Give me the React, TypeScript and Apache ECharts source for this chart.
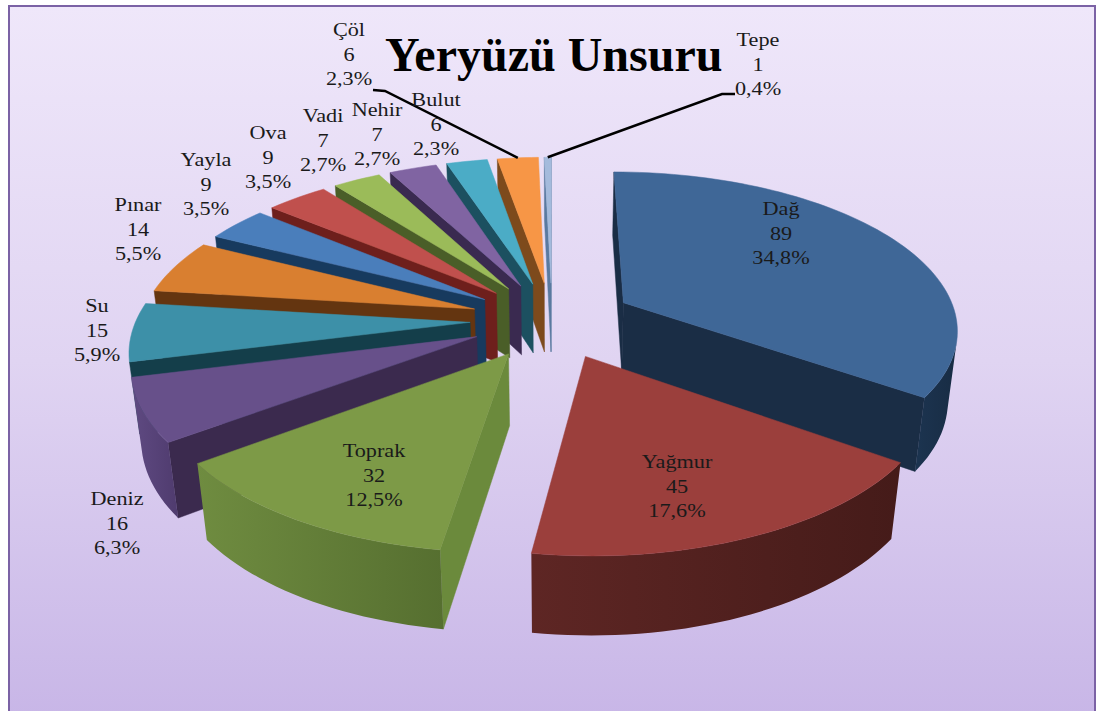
import React, { useEffect, useRef } from "react";
import * as echarts from "echarts";

const CATEGORIES = ["Dağ", "Yağmur", "Toprak", "Deniz", "Su", "Pınar", "Yayla", "Ova", "Vadi", "Nehir", "Bulut", "Çöl", "Tepe"];
const VALUES = [89, 45, 32, 16, 15, 14, 9, 9, 7, 7, 6, 6, 1];
const PERCENT_LABELS = ["34,8%", "17,6%", "12,5%", "6,3%", "5,9%", "5,5%", "3,5%", "3,5%", "2,7%", "2,7%", "2,3%", "2,3%", "0,4%"];
const TITLE = "Yeryüzü Unsuru";

const TOP_COLORS = ["#3f6797", "#9b3f3c", "#7d9a47", "#67508a", "#3d90a8", "#d97f30", "#4a7ebb", "#c0504d", "#9bbb59", "#8064a2", "#4bacc6", "#f79646", "#a4bbdc"];
const CUT_COLORS = ["#1a2d45", "#5a2321", "#6b8a3c", "#3b2a4e", "#143e4a", "#643510", "#173a5e", "#6e1f1c", "#4a5e28", "#3a2a50", "#1c5060", "#7d4a1c", "#5a7aa0"];
const WALL_LIGHT = ["#1c3450", "#5e2624", "#6f8c40", "#5f4a82", "#2f7488", "#a8621f", "#2f5e92", "#8f3a38", "#76913f", "#5e4a80", "#2f7e94", "#b8702f", "#7a90b0"];
const WALL_DARK = ["#182c44", "#451b19", "#566f30", "#4f3b6e", "#22586a", "#824a16", "#234872", "#6e2a28", "#5c7230", "#4a3866", "#236274", "#8e5522", "#5f7490"];

const LABEL_X = [781, 677, 374, 117, 97, 138, 206, 268, 323, 377, 436, 349, 758];
const LABEL_Y = [233, 486, 475, 523, 330, 229, 184, 157, 140, 134, 124, 54, 64];

// Projection of the tilted pie
const CX = 552;
const CY = 320;
const SCALE_X = 334;
const SCALE_Y = 156;
const PERSPECTIVE = 0.155;
const DEPTH_SHIFT = 0.024;
const WALL = 72;
const EXPLODE = 0.245;

const TOTAL = VALUES.reduce((a, b) => a + b, 0);
const spans = (() => {
  let acc = 0;
  return VALUES.map((v) => {
    const s = (acc / TOTAL) * Math.PI * 2;
    acc += v;
    return [s, (acc / TOTAL) * Math.PI * 2];
  });
})();
const midOf = (i: number) => (spans[i][0] + spans[i][1]) / 2;
const drawOrder = VALUES.map((_, i) => i).sort((a, b) => Math.cos(midOf(b)) - Math.cos(midOf(a)));

type P = [number, number];
const project = (X: number, Y: number, bottom: boolean): P => {
  const w = 1 + PERSPECTIVE * Y + (bottom ? DEPTH_SHIFT : 0);
  return [CX + (SCALE_X * X) / w, CY + (-SCALE_Y * Y + (bottom ? WALL : 0)) / w];
};
const area = (pts: P[]) => {
  let s = 0;
  pts.forEach((p, i) => {
    const q = pts[(i + 1) % pts.length];
    s += p[0] * q[1] - q[0] * p[1];
  });
  return s;
};

function renderSlice(_params: any, api: any) {
  const i = api.value(0);
  const [a0, a1] = spans[i];
  const mid = midOf(i);
  const ox = Math.sin(mid) * EXPLODE;
  const oy = Math.cos(mid) * EXPLODE;
  const rim = (t: number, bottom: boolean) => project(ox + Math.sin(t), oy + Math.cos(t), bottom);
  const apexTop = project(ox, oy, false);
  const apexBot = project(ox, oy, true);
  const steps = Math.max(6, Math.round((a1 - a0) / 0.03));
  const angles: number[] = [];
  for (let k = 0; k <= steps; k++) angles.push(a0 + ((a1 - a0) * k) / steps);

  const children: any[] = [];
  const poly = (points: P[], fill: any) => ({
    type: "polygon",
    shape: { points },
    style: { fill, stroke: typeof fill === "string" ? fill : "none", lineWidth: 0.5 },
  });

  const startCut: P[] = [apexTop, rim(a0, false), rim(a0, true), apexBot];
  if (area(startCut) < 0) children.push(poly(startCut, CUT_COLORS[i]));
  const endCut: P[] = [apexTop, rim(a1, false), rim(a1, true), apexBot];
  if (area(endCut) > 0) children.push(poly(endCut, CUT_COLORS[i]));

  const visible: number[] = [];
  for (let k = 0; k < steps; k++) {
    const q: P[] = [rim(angles[k], false), rim(angles[k + 1], false), rim(angles[k + 1], true), rim(angles[k], true)];
    if (area(q) < 0) visible.push(k);
  }
  if (visible.length) {
    const from = visible[0];
    const to = visible[visible.length - 1] + 1;
    const tops: P[] = [];
    const bots: P[] = [];
    for (let k = from; k <= to; k++) {
      tops.push(rim(angles[k], false));
      bots.unshift(rim(angles[k], true));
    }
    children.push(
      poly(
        tops.concat(bots),
        new echarts.graphic.LinearGradient(0, 0, 1, 0, [
          { offset: 0, color: WALL_LIGHT[i] },
          { offset: 1, color: WALL_DARK[i] },
        ])
      )
    );
  }

  const topPts: P[] = [apexTop];
  angles.forEach((t) => topPts.push(rim(t, false)));
  children.push(poly(topPts, TOP_COLORS[i]));

  children.push({
    type: "text",
    x: LABEL_X[i],
    y: LABEL_Y[i],
    scaleX: 1.14,
    z2: 100,
    style: {
      text: `${CATEGORIES[i]}\n${VALUES[i]}\n${PERCENT_LABELS[i]}`,
      x: 0,
      y: 0,
      align: "center",
      verticalAlign: "middle",
      fontFamily: "Liberation Serif",
      fontSize: 19.5,
      lineHeight: 24.5,
      fill: "#1a1a1a",
    },
  });

  const leaderFrom: Record<string, P[]> = {
    Çöl: [[373, 90], [385, 91]],
    Tepe: [[735, 94], [722, 94]],
  };
  const leader = leaderFrom[CATEGORIES[i]];
  if (leader) {
    children.push({
      type: "polyline",
      z2: 99,
      shape: { points: [...leader, rim(mid, false)] },
      style: { fill: "none", stroke: "#000", lineWidth: 2.5 },
    });
  }
  return { type: "group", children };
}

export default function App() {
  const ref = useRef<HTMLDivElement>(null);
  useEffect(() => {
    const chart = echarts.init(ref.current!, undefined, { renderer: "svg" });
    chart.setOption({
      animation: false,
      backgroundColor: "#ffffff",
      title: {
        text: TITLE,
        left: 385,
        top: 30,
        padding: 0,
        textStyle: { fontFamily: "Liberation Serif", fontWeight: "bold", fontSize: 48, color: "#000000" },
      },
      graphic: [
        {
          type: "rect",
          z: -1,
          shape: { x: 9, y: 6, width: 1086, height: 710 },
          style: {
            fill: new echarts.graphic.LinearGradient(0, 0, 0, 1, [
              { offset: 0, color: "#efe7fa" },
              { offset: 0.5, color: "#e0d4f2" },
              { offset: 1, color: "#c8b6e7" },
            ]),
            stroke: "#7b62a5",
            lineWidth: 2,
          },
        },
      ],
      series: [
        {
          type: "custom",
          coordinateSystem: "none",
          renderItem: renderSlice,
          data: drawOrder.map((i) => [i]),
          silent: true,
        },
      ],
    });
    return () => chart.dispose();
  }, []);
  return <div ref={ref} style={{ position: "fixed", left: 0, top: 0, width: 1097, height: 711 }} />;
}
